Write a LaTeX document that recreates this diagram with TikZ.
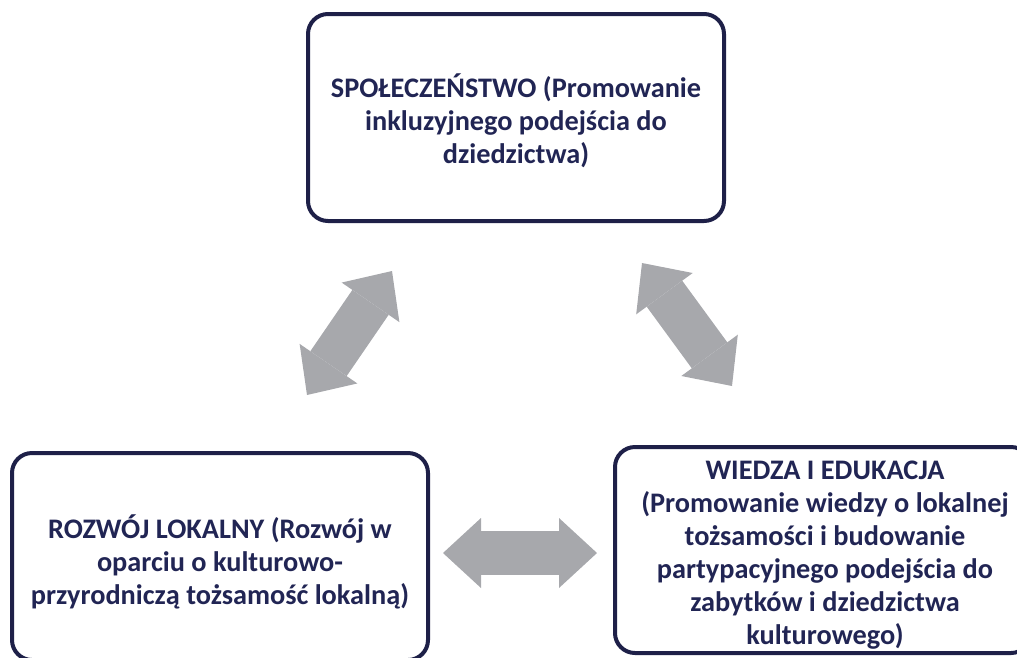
\documentclass[tikz,border=0pt]{standalone}
\usepackage{fontspec}
\setmainfont{Carlito}
\usetikzlibrary{arrows.meta}
\definecolor{navy}{RGB}{30,32,72}
\definecolor{navytext}{RGB}{33,37,84}
\definecolor{arrowgrey}{RGB}{167,168,172}
\tikzset{
  box/.style={draw=navy, line width=4pt, rounded corners=20pt, fill=white},
  boxtext/.style={align=center, text=navytext, font=\fontsize{28.3}{33}\selectfont\bfseries, inner sep=0pt},
  blockarrow/.style={draw=arrowgrey, line width=44pt,
    {Triangle[length=38pt,width=70pt,line width=0pt,fill=arrowgrey]}-{Triangle[length=38pt,width=70pt,line width=0pt,fill=arrowgrey]}}
}
\begin{document}
\begin{tikzpicture}[x=1pt,y=-1pt]
\useasboundingbox (0,0) rectangle (1017,657);
% boxes
\draw[box] (308,14) rectangle (724,221);
\draw[box] (12,453) rectangle (428,660);
\draw[box] (615,447) rectangle (1031,653);
% texts
\node[boxtext] (soc) at (516,121) {SPOŁECZEŃSTWO (Promowanie\\inkluzyjnego podejścia do\\dziedzictwa)};
\node[boxtext] (roz) at (220,562) {ROZWÓJ LOKALNY (Rozwój w\\oparciu o kulturowo-\\przyrodniczą tożsamość lokalną)};
\node[boxtext] (wie) at (825,555) {WIEDZA I EDUKACJA\\(Promowanie wiedzy o lokalnej\\tożsamości i budowanie\\partypacyjnego podejścia do\\zabytków i dziedzictwa\\kulturowego)};
% arrow end points
\coordinate (a1s) at (307,395);
\coordinate (a1e) at (392,271);
\coordinate (a2s) at (642,263);
\coordinate (a2e) at (732,386);
\coordinate (a3s) at (443,553);
\coordinate (a3e) at (597,553);
\draw[blockarrow] (a1s) -- (a1e);
\draw[blockarrow] (a2s) -- (a2e);
\draw[blockarrow] (a3s) -- (a3e);
\end{tikzpicture}
\end{document}
